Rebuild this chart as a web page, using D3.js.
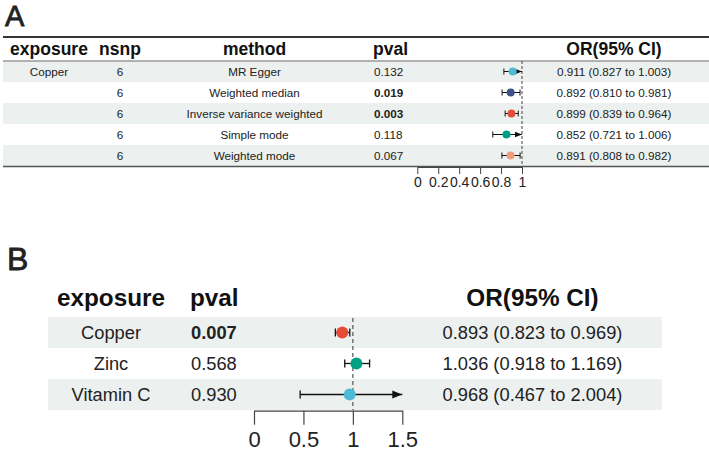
<!DOCTYPE html>
<html>
<head>
<meta charset="utf-8">
<script src="https://cdn.jsdelivr.net/npm/d3@7"></script>
<style>
  body { margin: 0; background: #fff; }
  svg { font-family: "Liberation Sans", Arial, sans-serif; }
</style>
</head>
<body>
<div id="canvas"></div>
<script>
"use strict"

/* Panel A data: Copper, one row per MR method */
const methodsA = ["MR Egger", "Weighted median", "Inverse variance weighted", "Simple mode", "Weighted mode"];
const nsnpA = [6, 6, 6, 6, 6];
const pvalA = [0.132, 0.019, 0.003, 0.118, 0.067];
const orA = [0.911, 0.892, 0.899, 0.852, 0.891];
const lowerA = [0.827, 0.810, 0.839, 0.721, 0.808];
const upperA = [1.003, 0.981, 0.964, 1.006, 0.982];
const ticksA = [0, 0.2, 0.4, 0.6, 0.8, 1];

/* Panel B data: one row per exposure (IVW) */
const exposuresB = ["Copper", "Zinc", "Vitamin C"];
const pvalB = [0.007, 0.568, 0.930];
const orB = [0.893, 1.036, 0.968];
const lowerB = [0.823, 0.918, 0.467];
const upperB = [0.969, 1.169, 2.004];
const ticksB = [0, 0.5, 1, 1.5];

const paletteA = ["#4DBBD5", "#3C5488", "#E64B35", "#00A087", "#F39B7F"];
const paletteB = ["#E64B35", "#00A087", "#4DBBD5"];

let f3 = d3.format(".3f");
let orText = (o, l, u) => f3(o) + " (" + f3(l) + " to " + f3(u) + ")";

let drawing = d3.select("#canvas")
    .append("svg")
    .attr("width", 709)
    .attr("height", 452);

// arrow heads for CIs that run past the axis
let defs = drawing.append("defs");
function addArrow(id, size) {
    defs.append("marker")
        .attr("id", id)
        .attr("viewBox", "0 0 10 10")
        .attr("refX", 10)
        .attr("refY", 5)
        .attr("markerUnits", "userSpaceOnUse")
        .attr("markerWidth", size)
        .attr("markerHeight", size)
        .attr("orient", "auto")
        .append("path")
        .attr("d", "M0,1 L10,5 L0,9 Z")
        .attr("fill", "#111");
}
addArrow("arrowA", 7);
addArrow("arrowB", 10);

/* ---------------- Panel A ---------------- */

let panelA = drawing.append("g");

panelA.append("text")
    .attr("x", 5).attr("y", 26)
    .attr("font-size", 29)
    .attr("fill", "#222")
    .attr("stroke", "#222").attr("stroke-width", 0.8)
    .text("A");

let yA = d3.scaleBand().domain(d3.range(methodsA.length)).range([61, 166]);
let xA = d3.scaleLinear().domain([0, 1]).range([417.3, 522]);

// zebra rows
panelA.selectAll(".rowA")
    .data(methodsA)
    .enter().append("rect")
    .attr("x", 3)
    .attr("y", (d, i) => yA(i))
    .attr("width", 706)
    .attr("height", yA.bandwidth())
    .attr("fill", (d, i) => i % 2 == 0 ? "#ECF0EE" : "none");

// table lines
panelA.append("line").attr("x1", 3).attr("x2", 709).attr("y1", 37).attr("y2", 37)
    .attr("stroke", "#333").attr("stroke-width", 2);
panelA.append("line").attr("x1", 3).attr("x2", 709).attr("y1", 61).attr("y2", 61)
    .attr("stroke", "#9a9a9a").attr("stroke-width", 1.3);
panelA.append("line").attr("x1", 3).attr("x2", 709).attr("y1", 166.5).attr("y2", 166.5)
    .attr("stroke", "#555").attr("stroke-width", 1.5);

// headers
let headA = [
    { t: "exposure", x: 49, a: "middle" },
    { t: "nsnp", x: 120, a: "middle" },
    { t: "method", x: 254.5, a: "middle" },
    { t: "pval", x: 373, a: "start" },
    { t: "OR(95% CI)", x: 614, a: "middle" }
];
panelA.selectAll(".headA")
    .data(headA)
    .enter().append("text")
    .attr("x", d => d.x)
    .attr("y", 55)
    .attr("text-anchor", d => d.a)
    .attr("font-size", 17.5)
    .attr("font-weight", "bold")
    .attr("fill", "#111")
    .text(d => d.t);

// text columns
let cellA = (vals, x, anchor, bold) => {
    panelA.selectAll(null)
        .data(vals)
        .enter().append("text")
        .attr("x", x)
        .attr("y", (d, i) => yA(i) + yA.bandwidth() / 2)
        .attr("dy", "0.36em")
        .attr("text-anchor", anchor)
        .attr("font-size", 11.7)
        .attr("font-weight", (d, i) => bold && bold(i) ? "bold" : "normal")
        .attr("fill", "#222")
        .text(d => d);
};
cellA(methodsA.map((d, i) => i == 0 ? "Copper" : ""), 49, "middle");
cellA(nsnpA, 120, "middle");
cellA(methodsA, 254.5, "middle");
cellA(pvalA.map(f3), 374, "start", i => pvalA[i] < 0.05);
cellA(orA.map((d, i) => orText(d, lowerA[i], upperA[i])), 614, "middle");

// reference line at OR = 1
panelA.append("line")
    .attr("x1", xA(1)).attr("x2", xA(1))
    .attr("y1", 61).attr("y2", 166)
    .attr("stroke", "#444").attr("stroke-width", 1)
    .attr("stroke-dasharray", "3,2");

// confidence intervals
let maxA = xA.domain()[1];
panelA.selectAll(".ciA")
    .data(orA)
    .enter().append("line")
    .attr("x1", (d, i) => xA(lowerA[i]))
    .attr("x2", (d, i) => xA(Math.min(upperA[i], maxA)))
    .attr("y1", (d, i) => yA(i) + yA.bandwidth() / 2)
    .attr("y2", (d, i) => yA(i) + yA.bandwidth() / 2)
    .attr("stroke", "#111").attr("stroke-width", 1)
    .attr("marker-end", (d, i) => upperA[i] > maxA ? "url(#arrowA)" : null);

let capsA = [];
orA.forEach((d, i) => {
    capsA.push({ v: lowerA[i], i: i });
    if (upperA[i] <= maxA) capsA.push({ v: upperA[i], i: i });
});
panelA.selectAll(".capA")
    .data(capsA)
    .enter().append("line")
    .attr("x1", d => xA(d.v)).attr("x2", d => xA(d.v))
    .attr("y1", d => yA(d.i) + yA.bandwidth() / 2 - 3)
    .attr("y2", d => yA(d.i) + yA.bandwidth() / 2 + 3)
    .attr("stroke", "#111").attr("stroke-width", 1);

panelA.selectAll(".ptA")
    .data(orA)
    .enter().append("circle")
    .attr("cx", d => xA(d))
    .attr("cy", (d, i) => yA(i) + yA.bandwidth() / 2)
    .attr("r", 4)
    .attr("fill", (d, i) => paletteA[i]);

// x axis
let axisA = panelA.append("g")
    .attr("transform", "translate(0,167)")
    .call(d3.axisBottom(xA).tickValues(ticksA).tickFormat(d3.format("~g"))
        .tickSize(7).tickSizeOuter(0).tickPadding(3));
axisA.selectAll("path, line").attr("stroke", "#444");
axisA.selectAll("text").attr("font-size", 14).attr("fill", "#222")
    .attr("font-family", "Liberation Sans, Arial, sans-serif");

/* ---------------- Panel B ---------------- */

let panelB = drawing.append("g");

panelB.append("text")
    .attr("x", 7).attr("y", 270)
    .attr("font-size", 32)
    .attr("fill", "#222")
    .attr("stroke", "#222").attr("stroke-width", 0.8)
    .text("B");

let yB = d3.scaleBand().domain(d3.range(exposuresB.length)).range([317, 410]);
let xB = d3.scaleLinear().domain([0, 1.5]).range([254, 402.3]);

panelB.selectAll(".rowB")
    .data(exposuresB)
    .enter().append("rect")
    .attr("x", 48)
    .attr("y", (d, i) => yB(i))
    .attr("width", 614)
    .attr("height", yB.bandwidth())
    .attr("fill", (d, i) => i % 2 == 0 ? "#ECF0EE" : "none");

let headB = [
    { t: "exposure", x: 111, a: "middle" },
    { t: "pval", x: 190, a: "start" },
    { t: "OR(95% CI)", x: 532.5, a: "middle" }
];
panelB.selectAll(".headB")
    .data(headB)
    .enter().append("text")
    .attr("x", d => d.x)
    .attr("y", 306)
    .attr("text-anchor", d => d.a)
    .attr("font-size", 24.3)
    .attr("font-weight", "bold")
    .attr("fill", "#111")
    .text(d => d.t);

let cellB = (vals, x, anchor, bold) => {
    panelB.selectAll(null)
        .data(vals)
        .enter().append("text")
        .attr("x", x)
        .attr("y", (d, i) => yB(i) + yB.bandwidth() / 2)
        .attr("dy", "0.36em")
        .attr("text-anchor", anchor)
        .attr("font-size", 18.3)
        .attr("font-weight", (d, i) => bold && bold(i) ? "bold" : "normal")
        .attr("fill", "#222")
        .text(d => d);
};
cellB(exposuresB, 111, "middle");
cellB(pvalB.map(f3), 191, "start", i => pvalB[i] < 0.05);
cellB(orB.map((d, i) => orText(d, lowerB[i], upperB[i])), 532.5, "middle");

panelB.append("line")
    .attr("x1", xB(1)).attr("x2", xB(1))
    .attr("y1", 318).attr("y2", 410)
    .attr("stroke", "#555").attr("stroke-width", 1.2)
    .attr("stroke-dasharray", "4,3");

let maxB = xB.domain()[1];
panelB.selectAll(".ciB")
    .data(orB)
    .enter().append("line")
    .attr("x1", (d, i) => xB(lowerB[i]))
    .attr("x2", (d, i) => xB(Math.min(upperB[i], maxB)))
    .attr("y1", (d, i) => yB(i) + yB.bandwidth() / 2)
    .attr("y2", (d, i) => yB(i) + yB.bandwidth() / 2)
    .attr("stroke", "#111").attr("stroke-width", 1.3)
    .attr("marker-end", (d, i) => upperB[i] > maxB ? "url(#arrowB)" : null);

let capsB = [];
orB.forEach((d, i) => {
    capsB.push({ v: lowerB[i], i: i });
    if (upperB[i] <= maxB) capsB.push({ v: upperB[i], i: i });
});
panelB.selectAll(".capB")
    .data(capsB)
    .enter().append("line")
    .attr("x1", d => xB(d.v)).attr("x2", d => xB(d.v))
    .attr("y1", d => yB(d.i) + yB.bandwidth() / 2 - 4)
    .attr("y2", d => yB(d.i) + yB.bandwidth() / 2 + 4)
    .attr("stroke", "#111").attr("stroke-width", 1.3);

panelB.selectAll(".ptB")
    .data(orB)
    .enter().append("circle")
    .attr("cx", d => xB(d))
    .attr("cy", (d, i) => yB(i) + yB.bandwidth() / 2)
    .attr("r", 6)
    .attr("fill", (d, i) => paletteB[i]);

let axisB = panelB.append("g")
    .attr("transform", "translate(0,410.7)")
    .call(d3.axisBottom(xB).tickValues(ticksB).tickFormat(d3.format("~g"))
        .tickSize(14).tickSizeOuter(0).tickPadding(7));
axisB.selectAll("path, line").attr("stroke", "#444").attr("stroke-width", 1.2);
axisB.selectAll("text").attr("font-size", 22).attr("fill", "#222")
    .attr("font-family", "Liberation Sans, Arial, sans-serif");
</script>
</body>
</html>
